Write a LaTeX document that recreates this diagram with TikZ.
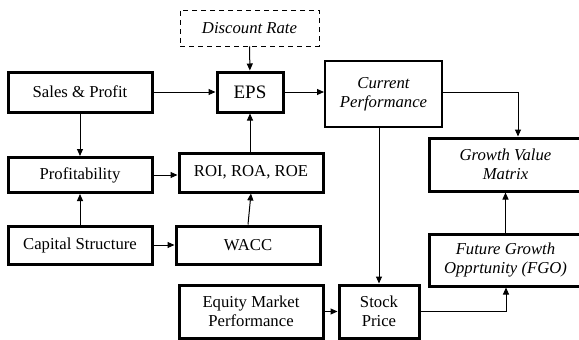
\documentclass[tikz,border=0pt]{standalone}
\usepackage{fontspec}
\setmainfont{Liberation Serif}
\usetikzlibrary{arrows.meta}

\begin{document}
\begin{tikzpicture}[>={Triangle[length=7pt,width=6pt]}, x=1pt, y=-1pt]
  % Box and text styles
  \tikzset{
    box/.style   = {draw, line width=3pt, inner sep=1pt, align=center, font=\fontsize{16.7}{19}\selectfont},
    soft/.style  = {box, line width=2pt},
    ital/.style  = {font=\fontsize{16.7}{19}\selectfont\itshape},
    dash box/.style = {draw, line width=0.9pt, dash pattern=on 5pt off 4pt, align=center},
    link/.style  = {->, line width=1pt}
  }
  \useasboundingbox (0,0) rectangle (579,340);

  % --- Top row ---
  \node[dash box, ital, minimum width=139pt, minimum height=36pt] (rate) at (249.5,28) {Discount Rate};
  \node[box, minimum width=144pt, minimum height=40pt] (sales) at (80,92) {Sales \& Profit};
  \node[box, minimum width=66pt, minimum height=40pt, font=\fontsize{19}{21}\selectfont] (eps) at (250,92) {EPS};
  \node[soft, ital, minimum width=117pt, minimum height=66pt] (curr) at (383.5,94) {Current\\Performance};

  % --- Middle rows ---
  \node[box, minimum width=144pt, minimum height=35pt] (prof) at (80,175) {Profitability};
  \node[box, minimum width=144pt, minimum height=39pt] (roi) at (251,172.5) {ROI, ROA, ROE};
  \node[box, ital, minimum width=153pt, minimum height=53pt] (gvm) at (505.5,164.5) {Growth Value\\Matrix};
  \node[box, minimum width=144pt, minimum height=38pt] (cap) at (80,245) {Capital Structure};
  \node[box, minimum width=144pt, minimum height=38pt] (wacc) at (248,245) {WACC};
  \node[box, ital, minimum width=153pt, minimum height=52pt] (fgo) at (505.5,260) {Future Growth\\Opprtunity (FGO)};

  % --- Bottom row ---
  \node[box, minimum width=144pt, minimum height=53pt] (equity) at (251,311.5) {Equity Market\\Performance};
  \node[box, minimum width=80pt, minimum height=53pt] (stock) at (379,311.5) {Stock\\Price};

  % --- Connectors ---
  \draw[link] (rate) -- (eps);
  \draw[link] (sales) -- (eps);
  \draw[link] (sales) -- (prof);
  \draw[link] (eps.east) -- (curr.west |- eps.east);
  \draw[link] (curr.east |- eps.east) -| (gvm.north -| 518,0);
  \draw[link] (curr.south -| stock.north) -- (stock.north);
  \draw[link] (prof) -- (prof -| roi.west);
  \draw[link] (roi.north -| eps.south) -- (eps.south);
  \draw[link] (cap) -- (prof);
  \draw[link] (cap) -- (wacc);
  \draw[link] (wacc.north) -- (roi.south);
  \draw[link] (equity) -- (stock);
  \draw[link] (stock.east) -| (fgo.south -| 506,0);
  \draw[link] (fgo) -- (gvm);
\end{tikzpicture}
\end{document}
